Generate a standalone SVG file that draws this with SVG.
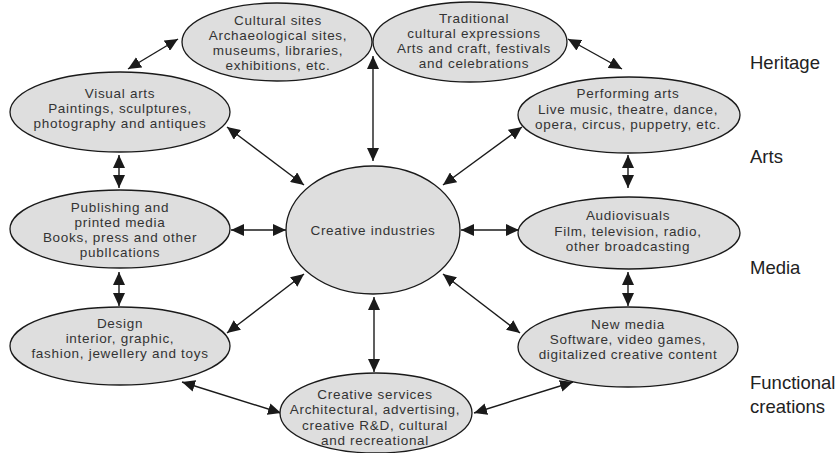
<svg xmlns="http://www.w3.org/2000/svg" width="840" height="453" viewBox="0 0 840 453">
<defs>
<style>
.n ellipse{fill:#dedede;stroke:#1a1a1a;stroke-width:1.3}
.n text{font-family:"Liberation Sans",Arial,sans-serif;font-size:13.5px;letter-spacing:0.7px;fill:#333;text-anchor:middle}
.lbl{font-family:"Liberation Sans",Arial,sans-serif;font-size:18.5px;fill:#222}
#connectors line{stroke:#1a1a1a;stroke-width:1.4;marker-start:url(#ah);marker-end:url(#ah)}
</style>
<marker id="ah" markerUnits="userSpaceOnUse" markerWidth="14" markerHeight="12" refX="13" refY="6" orient="auto-start-reverse">
<path d="M0,0 L13,6 L0,12 z" fill="#1a1a1a"/>
</marker>
</defs>
<rect width="840" height="453" fill="#fff"/>
<g id="connectors">
<line x1="128" y1="69" x2="178" y2="39"/>
<line x1="568" y1="39" x2="622" y2="69"/>
<line x1="119" y1="155" x2="119" y2="188"/>
<line x1="119" y1="272" x2="119" y2="306"/>
<line x1="628" y1="155" x2="628" y2="188"/>
<line x1="628" y1="272" x2="628" y2="306"/>
<line x1="182" y1="382" x2="281" y2="413"/>
<line x1="573" y1="382" x2="474" y2="413"/>
<line x1="373" y1="56" x2="373" y2="161"/>
<line x1="374" y1="297" x2="374" y2="372"/>
<line x1="227" y1="127" x2="304" y2="185"/>
<line x1="522" y1="127" x2="443" y2="185"/>
<line x1="231" y1="230" x2="286" y2="230"/>
<line x1="519" y1="230" x2="461" y2="230"/>
<line x1="227" y1="333" x2="304" y2="274"/>
<line x1="520" y1="333" x2="443" y2="274"/>
</g>
<g id="cultural-sites" class="n">
<ellipse cx="277" cy="42" rx="95" ry="39"/>
<text x="278" y="25">Cultural sites</text>
<text x="278" y="40">Archaeological sites,</text>
<text x="278" y="55">museums, libraries,</text>
<text x="278" y="70">exhibitions, etc.</text>
</g>
<g id="traditional" class="n">
<ellipse cx="470" cy="42" rx="97" ry="40"/>
<text x="474" y="23">Traditional</text>
<text x="474" y="38">cultural expressions</text>
<text x="474" y="53">Arts and craft, festivals</text>
<text x="474" y="68">and celebrations</text>
</g>
<g id="visual-arts" class="n">
<ellipse cx="120" cy="112" rx="110" ry="40"/>
<text x="120" y="98">Visual arts</text>
<text x="120" y="113">Paintings, sculptures,</text>
<text x="120" y="128">photography and antiques</text>
</g>
<g id="performing-arts" class="n">
<ellipse cx="629" cy="115" rx="111" ry="38"/>
<text x="628" y="98">Performing arts</text>
<text x="628" y="114">Live music, theatre, dance,</text>
<text x="628" y="129">opera, circus, puppetry, etc.</text>
</g>
<g id="publishing" class="n">
<ellipse cx="120" cy="229" rx="110" ry="39"/>
<text x="120" y="212">Publishing and</text>
<text x="120" y="227">printed media</text>
<text x="120" y="242">Books, press and other</text>
<text x="120" y="257">publIcations</text>
</g>
<g id="creative-industries" class="n">
<ellipse cx="373" cy="230" rx="87" ry="64"/>
<text x="373" y="235">Creative industries</text>
</g>
<g id="audiovisuals" class="n">
<ellipse cx="629" cy="233" rx="111" ry="36"/>
<text x="628" y="220">Audiovisuals</text>
<text x="628" y="236">Film, television, radio,</text>
<text x="628" y="251">other broadcasting</text>
</g>
<g id="design" class="n">
<ellipse cx="120" cy="346" rx="110" ry="39"/>
<text x="120" y="328">Design</text>
<text x="120" y="343">interior, graphic,</text>
<text x="120" y="358">fashion, jewellery and toys</text>
</g>
<g id="new-media" class="n">
<ellipse cx="628" cy="347" rx="110" ry="40"/>
<text x="628" y="329">New media</text>
<text x="628" y="344">Software, video games,</text>
<text x="628" y="359">digitalized creative content</text>
</g>
<g id="creative-services" class="n">
<ellipse cx="376" cy="413" rx="96" ry="40"/>
<text x="375" y="399">Creative services</text>
<text x="375" y="414">Architectural, advertising,</text>
<text x="375" y="430">creative R&amp;D, cultural</text>
<text x="375" y="445">and recreational</text>
</g>
<g id="categories">
<text class="lbl" x="750" y="69">Heritage</text>
<text class="lbl" x="750" y="163">Arts</text>
<text class="lbl" x="750" y="274">Media</text>
<text class="lbl" x="750" y="389">Functional</text>
<text class="lbl" x="750" y="413">creations</text>
</g>
</svg>
